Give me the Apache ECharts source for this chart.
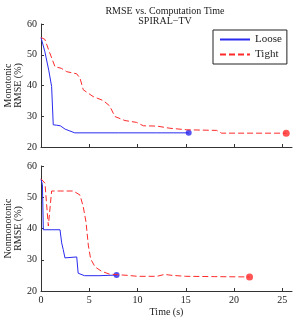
<!DOCTYPE html>
<html><head><meta charset="utf-8">
<script src="https://cdn.jsdelivr.net/npm/echarts@6/dist/echarts.min.js"></script>
<style>html,body{margin:0;padding:0;background:#fff}#c{width:298px;height:320px}</style>
</head><body><div id="c"></div>
<script>
// Monotonic (top)
const monoLooseT = [0, 0.4, 0.8, 1.1, 1.27, 1.6, 2.0, 2.5, 3.0, 3.5, 8, 12, 15.3];
const monoLooseV = [55.6, 51, 45, 39.7, 27.2, 27.1, 26.9, 25.8, 25.2, 24.6, 24.6, 24.6, 24.6];
const monoTightT = [0, 0.4, 0.8, 1.45, 2.1, 2.66, 3.7, 4.04, 4.38, 5.4, 6.45, 7.1, 7.66, 8.7, 9.9, 10.6, 12.0, 13.35, 15.1, 18.2, 18.7, 22, 25.4];
const monoTightV = [55.6, 55.0, 51.5, 46.1, 45.6, 44.5, 43.8, 42.4, 38.6, 36.4, 35.1, 33.4, 29.9, 28.6, 28.0, 26.9, 26.8, 26.1, 25.6, 25.4, 24.5, 24.5, 24.5];
// Nonmonotonic (bottom)
const nonLooseT = [0, 0.15, 0.24, 1.97, 2.14, 2.3, 2.48, 2.6, 3.7, 3.85, 4.5, 6, 7.83];
const nonLooseV = [55.8, 54, 39.6, 39.6, 35.4, 33.3, 30.6, 30.9, 30.9, 25.7, 24.9, 24.9, 25.1];
const nonTightT = [0, 0.41, 0.76, 1.1, 2.0, 3.35, 4.04, 4.38, 4.66, 4.9, 5.14, 5.6, 6.28, 7.1, 9.0, 10.0, 12.0, 12.8, 13.6, 15.0, 18, 21.6];
const nonTightV = [55.9, 54.5, 40.8, 52.0, 52.0, 52.0, 50.7, 46.9, 42.1, 34.7, 30.3, 27.7, 26.3, 25.4, 25.0, 24.7, 24.7, 25.3, 25.0, 24.7, 24.6, 24.5];

const xTicks = [0, 5, 10, 15, 20, 25];
const yTicks = [20, 30, 40, 50, 60];
const titleLines = ['RMSE vs. Computation Time', 'SPIRAL\u2212TV'];
const seriesNames = ['Loose', 'Tight'];

const pair = (t, v) => t.map((x, i) => [x, v[i]]);
const FONT = 'Liberation Serif';
const BLUE = '#2a2af0', RED = '#ff2a2a';
const axisCol = '#333';

function xAx(gi, labels) {
  return {
    type: 'value', gridIndex: gi, min: 0, max: 26,
    axisLine: { show: true, onZero: false, lineStyle: { color: axisCol, width: 1 } },
    axisTick: { show: true, inside: true, length: 3, customValues: xTicks, lineStyle: { color: axisCol } },
    axisLabel: { show: labels, customValues: xTicks, fontFamily: FONT, fontSize: 10, color: '#222', margin: 4 },
    splitLine: { show: false },
    name: labels ? 'Time (s)' : '', nameLocation: 'middle', nameGap: 16, nameMoveOverlap: false,
    nameTextStyle: { fontFamily: FONT, fontSize: 10, color: '#222' }
  };
}
function yAx(gi, name) {
  return {
    type: 'value', gridIndex: gi, min: 20, max: 60, interval: 10,
    axisLine: { show: true, lineStyle: { color: axisCol, width: 1 } },
    axisTick: { show: true, inside: true, length: 3, lineStyle: { color: axisCol } },
    axisLabel: { fontFamily: FONT, fontSize: 10, color: '#222', margin: 4 },
    splitLine: { show: false },
    name: name, nameLocation: 'middle', nameRotate: 90, nameGap: 18, nameMoveOverlap: false,
    nameTextStyle: { fontFamily: FONT, fontSize: 10, color: '#222', lineHeight: 10 }
  };
}
function line(name, data, xi, color, dashed) {
  return {
    type: 'line', name: name, xAxisIndex: xi, yAxisIndex: xi, data: data,
    symbol: 'none', smooth: false, silent: true,
    lineStyle: { color: color, width: 1, type: dashed ? [6, 3] : 'solid' },
    itemStyle: { color: color }
  };
}
function dot(data, xi, color, size) {
  return {
    type: 'scatter', name: 'end' + xi + color, xAxisIndex: xi, yAxisIndex: xi,
    data: [data[data.length - 1]], symbolSize: size, itemStyle: { color: color }, silent: true
  };
}

const chart = echarts.init(document.getElementById('c'), null, { renderer: 'canvas' });
chart.setOption({
  animation: false,
  backgroundColor: '#fff',
  title: {
    text: titleLines.join('\n'), left: 160, top: 1, textAlign: 'center',
    textStyle: { fontFamily: FONT, fontSize: 10, fontWeight: 'normal', color: '#222', lineHeight: 10 }
  },
  legend: {
    data: seriesNames.map(n => ({ name: n })),
    orient: 'vertical', left: 213, top: 30,
    borderColor: '#222', borderWidth: 1, padding: [4, 5, 4, 6],
    itemWidth: 30, itemHeight: 8, itemGap: 4,
    itemStyle: { opacity: 0 },
    textStyle: { fontFamily: FONT, fontSize: 11, color: '#222' }
  },
  grid: [
    { left: 41, top: 24, width: 251, height: 123, containLabel: false, outerBoundsMode: 'none' },
    { left: 41, top: 166, width: 251, height: 125, containLabel: false, outerBoundsMode: 'none' }
  ],
  xAxis: [xAx(0, false), xAx(1, true)],
  yAxis: [yAx(0, 'Monotonic\nRMSE (%)'), yAx(1, 'Nonmonotonic\nRMSE (%)')],
  series: [
    line('Loose', pair(monoLooseT, monoLooseV), 0, BLUE, false),
    line('Tight', pair(monoTightT, monoTightV), 0, RED, true),
    dot(pair(monoLooseT, monoLooseV), 0, BLUE, 6),
    dot(pair(monoTightT, monoTightV), 0, RED, 7),
    line('Loose', pair(nonLooseT, nonLooseV), 1, BLUE, false),
    line('Tight', pair(nonTightT, nonTightV), 1, RED, true),
    dot(pair(nonLooseT, nonLooseV), 1, BLUE, 6),
    dot(pair(nonTightT, nonTightV), 1, RED, 7)
  ]
});
</script></body></html>
